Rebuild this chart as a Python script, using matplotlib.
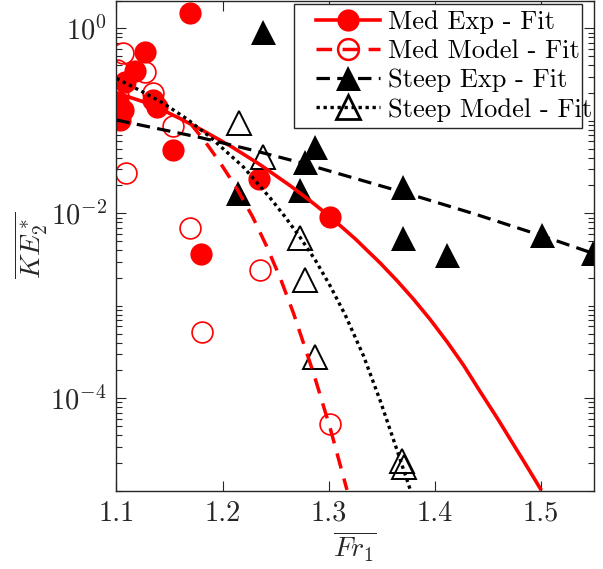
import matplotlib
matplotlib.use("Agg")
import matplotlib.pyplot as plt
from matplotlib.lines import Line2D
from matplotlib.patches import Rectangle
from matplotlib.ticker import LogLocator, NullFormatter

plt.rcParams['font.family'] = 'serif'
plt.rcParams['font.serif'] = ['cmr10']
plt.rcParams['mathtext.fontset'] = 'cm'
plt.rcParams['axes.unicode_minus'] = False

# data points
med_exp_x = [1.1693, 1.1269, 1.1175, 1.108, 1.1017, 1.1064, 1.1033, 1.1347, 1.1379, 1.153, 1.2347, 1.3008, 1.1797]
med_exp_y = [1.47, 0.558, 0.348, 0.265, 0.161, 0.131, 0.102, 0.168, 0.142, 0.0483, 0.0233, 0.00905, 0.00363]

med_model_x = [1.1058, 1.1002, 1.1269, 1.1347, 1.1013, 1.153, 1.109, 1.1693, 1.1804, 1.2354, 1.3014]
med_model_y = [0.537, 0.354, 0.34, 0.198, 0.185, 0.088, 0.0275, 0.00689, 0.000525, 0.00244, 5.2e-5]

steep_exp_x = [1.2385, 1.2149, 1.2873, 1.2778, 1.2731, 1.37, 1.37, 1.4115, 1.5011, 1.5488]
steep_exp_y = [0.92, 0.0164, 0.0525, 0.0361, 0.0179, 0.0194, 0.0054, 0.00355, 0.00582, 0.0037]

steep_model_x = [1.2159, 1.2385, 1.2731, 1.2778, 1.2873, 1.369, 1.3705]
steep_model_y = [0.094, 0.0409, 0.0054, 0.0019, 0.000282, 2.07e-5, 1.82e-5]

# fit curves, sampled from the chart
med_exp_fit_x = [1.1, 1.1253, 1.141, 1.1599, 1.1835, 1.209, 1.2354, 1.2637, 1.2826, 1.3008, 1.325,
                 1.3486, 1.3646, 1.38, 1.3958, 1.4115, 1.4269, 1.4429, 1.459, 1.4743, 1.4873, 1.4995]
med_exp_fit_y = [0.1998, 0.1609, 0.1351, 0.1059, 0.0762, 0.052, 0.0335, 0.01988, 0.01362, 0.00928, 0.00529,
                 0.00289, 0.001854, 0.001173, 0.000706, 0.000408, 0.000229, 0.000117, 6.05e-5, 3.13e-5, 1.79e-5, 1.05e-5]

med_model_fit_x = [1.1693, 1.1835, 1.1976, 1.2134, 1.2285, 1.241, 1.2543, 1.2668, 1.2857, 1.3014, 1.3172]
med_model_fit_y = [0.0947, 0.0596, 0.03532, 0.01854, 0.00905, 0.00452, 0.001993, 0.00083, 0.000186, 4.73e-5, 1.02e-5]

steep_exp_fit_x = [1.1, 1.1788, 1.2259, 1.2731, 1.3769, 1.4382, 1.4995, 1.55]
steep_exp_fit_y = [0.102, 0.066, 0.0489, 0.0354, 0.01601, 0.00978, 0.00578, 0.00366]

steep_model_fit_x = [1.1, 1.1222, 1.1442, 1.1665, 1.1882, 1.2196, 1.2448, 1.259, 1.2731, 1.2873, 1.3014,
                     1.3156, 1.3328, 1.3486, 1.3643, 1.3769]
steep_model_fit_y = [0.288, 0.2126, 0.1546, 0.1046, 0.0668, 0.03166, 0.01464, 0.00912, 0.00547, 0.003128,
                     0.001637, 0.000793, 0.000287, 9.35e-5, 2.76e-5, 1.02e-5]

labels = ["Med Exp - Fit", "Med Model - Fit", "Steep Exp - Fit", "Steep Model - Fit"]

RED = (1, 0, 0)
AXC = '#262626'

fig = plt.figure(figsize=(6.03, 5.69), dpi=100)
ax = fig.add_axes([0.1932, 0.1376, 0.7919, 0.8615])

# markers first
ax.plot(med_exp_x, med_exp_y, 'o', color=RED, ms=16, mew=0)
ax.plot(med_model_x, med_model_y, 'o', mfc='none', mec=RED, ms=15, mew=1.2)
ax.plot(steep_exp_x, steep_exp_y, '^', color='k', ms=18, mew=0)
ax.plot(steep_model_x, steep_model_y, '^', mfc='none', mec='k', ms=17, mew=1.4)

# fit lines on top
ax.plot(med_exp_fit_x, med_exp_fit_y, '-', color=RED, lw=2.6)
ax.plot(med_model_fit_x, med_model_fit_y, color=RED, lw=2.5, dashes=(4.5, 3))
ax.plot(steep_exp_fit_x, steep_exp_fit_y, color='k', lw=2.3, dashes=(4.2, 2.3))
ax.plot(steep_model_fit_x, steep_model_fit_y, color='k', lw=2.4, dashes=(1, 1.1))

ax.set_yscale('log')
ax.set_xlim(1.1, 1.55)
ax.set_ylim(1e-5, 2)
ax.set_xticks([1.1, 1.2, 1.3, 1.4, 1.5])
ax.set_xticklabels(['1.1', '1.2', '1.3', '1.4', '1.5'])
ax.set_yticks([1e-4, 1e-2, 1])
ax.set_yticklabels([r'$10^{-4}$', r'$10^{-2}$', r'$10^{0}$'])
ax.yaxis.set_minor_locator(LogLocator(base=10, subs=range(1, 10), numticks=100))
ax.yaxis.set_minor_formatter(NullFormatter())
ax.tick_params(which='both', direction='in', top=True, right=True, colors=AXC, labelsize=20.5)
ax.tick_params(which='major', length=7, width=0.8, pad=7)
ax.tick_params(which='minor', length=4, width=0.8)
for s in ax.spines.values():
    s.set_color(AXC)
    s.set_linewidth(1.0)

ax.set_xlabel(r'$\overline{Fr_1}$', fontsize=20, color=AXC, labelpad=2)
ax.set_ylabel(r'$\overline{KE_2^*}$', fontsize=20, color=AXC, labelpad=0)

# legend: MATLAB-style box with wide left padding
box = Rectangle((0.3717, 0.7399), 0.6032, 0.2530, transform=ax.transAxes, facecolor='white',
                edgecolor=AXC, lw=1.0, zorder=4.9)
ax.add_patch(box)
handles = [
    Line2D([], [], color=RED, lw=2.6, marker='o', ms=16, mew=0),
    Line2D([], [], color=RED, lw=2.5, dashes=(4.5, 3), marker='o', mfc='none', mec=RED, ms=15, mew=1.8),
    Line2D([], [], color='k', lw=2.3, dashes=(4.2, 2.3), marker='^', ms=18, mew=0),
    Line2D([], [], color='k', lw=2.4, dashes=(1, 1.1), marker='^', mfc='none', mec='k', ms=17, mew=2),
]
leg = ax.legend(handles, labels, loc='upper left', bbox_to_anchor=(0.4178, 0.9803), borderaxespad=0,
                fontsize=19, handlelength=2.42, handletextpad=0.3, labelspacing=0.21, borderpad=0,
                frameon=False)

fig.savefig('out.png', dpi=100)
